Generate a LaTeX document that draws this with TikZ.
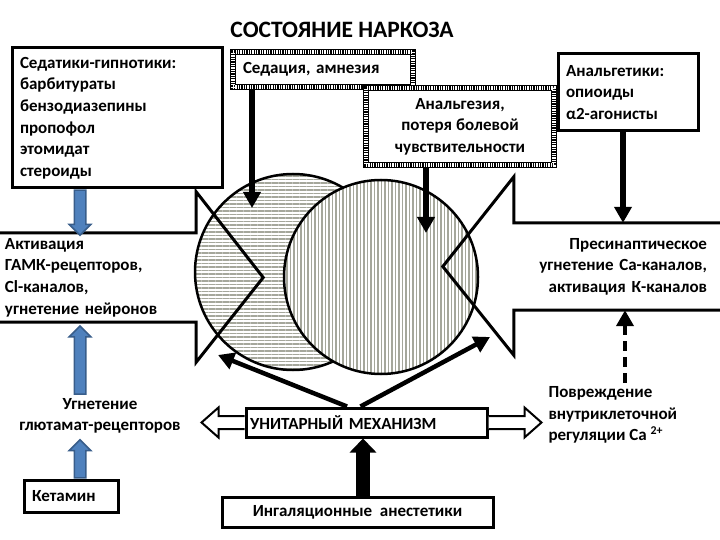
\documentclass[tikz,border=0pt]{standalone}
\usepackage{fontspec}
\setmainfont{Carlito}
\usetikzlibrary{arrows.meta,calc,shapes.arrows,patterns.meta}

\definecolor{stripe}{RGB}{165,167,155}
\definecolor{arrfill}{RGB}{79,129,189}
\definecolor{arrline}{RGB}{56,93,138}

\tikzset{
	box/.style={draw, line width=3pt, fill=white, inner sep=0pt},
	dotbox/.style={draw, line width=5.5pt, fill=white, inner sep=0pt, postaction={draw=white, line width=3.2pt, dash pattern=on 1.2pt off 1.2pt}},
	blk/.style={line width=6pt, -{Triangle[length=16pt,width=17pt]}},
	bluearr/.style={single arrow, draw=arrline, fill=arrfill, line width=1.5pt, inner xsep=0pt, inner ysep=5pt, minimum width=20pt, single arrow head extend=5pt, minimum height=#1, allow upside down, sloped, anchor=tail},
	openarr/.style={draw, fill=white, line width=2pt}
}

\begin{document}
\begin{tikzpicture}[x=1pt, y=-1pt, font=\fontsize{17}{21.6}\selectfont\bfseries]
	\useasboundingbox (0,0) rectangle (720,540);
	% two circles
	\node[circle, minimum size=196pt, draw, line width=2.5pt, preaction={fill=white}, pattern={Lines[angle=0,distance=3.5pt,line width=1.7pt]}, pattern color=stripe] (lcirc) at (293,272) {};
	\node[circle, minimum size=194pt, draw, line width=2.5pt, preaction={fill=white}, pattern={Lines[angle=90,distance=3.5pt,line width=1.7pt]}, pattern color=stripe] (rcirc) at (381,277) {};
	% side arrows
	\node[minimum width=196pt, minimum height=89pt, text width=186pt, inner xsep=5pt, inner ysep=0pt, align=left] (act) at (98,277.5) {Активация\\ГАМК-рецепторов,\\Cl-каналов,\\угнетение нейронов};
	\draw[line width=3pt] (act.north west) -- (act.north east) -- ++(0,-41) -- ($(act.east)+(67,0)$) -- ($(act.south east)+(0,40)$) -- (act.south east) -- (act.south west);
	\node[minimum width=206pt, minimum height=87pt, text width=180pt, inner xsep=13pt, inner ysep=0pt, align=right] (pre) at (617,266.5) {Пресинаптическое\\угнетение Са-каналов,\\активация К-каналов};
	\draw[line width=3pt] (pre.north east) -- (pre.north west) -- ++(0,-46) -- ($(pre.west)+(-71,0)$) -- ($(pre.south west)+(0,45)$) -- (pre.south west) -- (pre.south east);
	% boxes and labels
	\node[font=\fontsize{23.5}{27}\selectfont\bfseries] (title) at (342,30) {СОСТОЯНИЕ НАРКОЗА};
	\node[box, minimum width=210pt, minimum height=140pt, text width=194pt, inner xsep=8pt, align=left] (sed) at (117,118) {Седатики-гипнотики:\\барбитураты\\бензодиазепины\\пропофол\\этомидат\\стероиды};
	\node[dotbox, minimum width=180pt, minimum height=35pt, text width=160pt, inner xsep=10pt, align=left] (sedat) at (323,69.5) {Седация, амнезия};
	\node[dotbox, minimum width=188pt, minimum height=77pt, align=center] (analg) at (460,126.5) {Анальгезия,\\потеря болевой\\чувствительности};
	\node[box, minimum width=140pt, minimum height=77pt, text width=124pt, inner xsep=8pt, align=left] (opi) at (628,92.5) {Анальгетики:\\опиоиды\\α2-агонисты};
	\node[align=center] (glut) at (100,416) {Угнетение\\глютамат-рецепторов};
	\node[box, minimum width=94pt, minimum height=32pt, text width=78pt, inner xsep=8pt, align=left] (ket) at (71,496) {Кетамин};
	\node[box, minimum width=241pt, minimum height=29pt, text width=233pt, inner xsep=4pt, align=left] (unit) at (366.5,422.5) {УНИТАРНЫЙ МЕХАНИЗМ};
	\node[box, minimum width=271pt, minimum height=30pt] (ing) at (357.5,512) {Ингаляционные\ \ анестетики};
	\node[anchor=west, align=left] (dmg) at (545,415) {Повреждение\\внутриклеточной\\регуляции Са \textsuperscript{2+}};
	% arrow columns and free ends
	\coordinate (colA) at (80,0);
	\coordinate (colO) at (623,0);
	\coordinate (colD) at (625,0);
	\coordinate (colI) at (363,0);
	\coordinate (endS) at (252,208);
	\coordinate (endG) at (426,233);
	\coordinate (endL) at (218,355);
	\coordinate (endR) at (490,337);
	% black arrows
	\draw[blk] (sedat.south -| endS) -- (endS);
	\draw[blk] (analg.south -| endG) -- (endG);
	\draw[blk] (opi.south -| colO) -- (pre.north -| colO);
	\draw[blk, line width=4.5pt] ($(unit.north)+(-19.5,0)$) -- (endL);
	\draw[blk, line width=4.5pt] ($(unit.north)+(-6,0)$) -- (endR);
	\draw[line width=14pt, -{Triangle[length=14pt,width=26pt]}] (ing.north -| colI) -- (unit.south -| colI);
	\draw[blk, line width=4pt, dash pattern=on 10pt off 6pt] (dmg.north -| colD) -- (pre.south -| colD);
	% block arrows
	\path (sed.south -| colA) -- (act.north -| colA) node[pos=0, bluearr=45pt] {};
	\path (glut.north -| colA) -- (act.south -| colA) node[pos=0, bluearr=68pt] {};
	\path (ket.north -| colA) -- (glut.south -| colA) node[pos=0, bluearr=38pt] {};
	\draw[openarr] ($(unit.west)+(0,-6.5)$) -- ++(-26,0) -- ++(0,-8.5) -- ++(-17,15) -- ++(17,15) -- ++(0,-8.5) -- ++(26,0);
	\draw[openarr] ($(unit.east)+(0,-6.5)$) -- ++(36,0) -- ++(0,-8.5) -- ++(17,15) -- ++(-17,15) -- ++(0,-8.5) -- ++(-36,0);
\end{tikzpicture}
\end{document}
